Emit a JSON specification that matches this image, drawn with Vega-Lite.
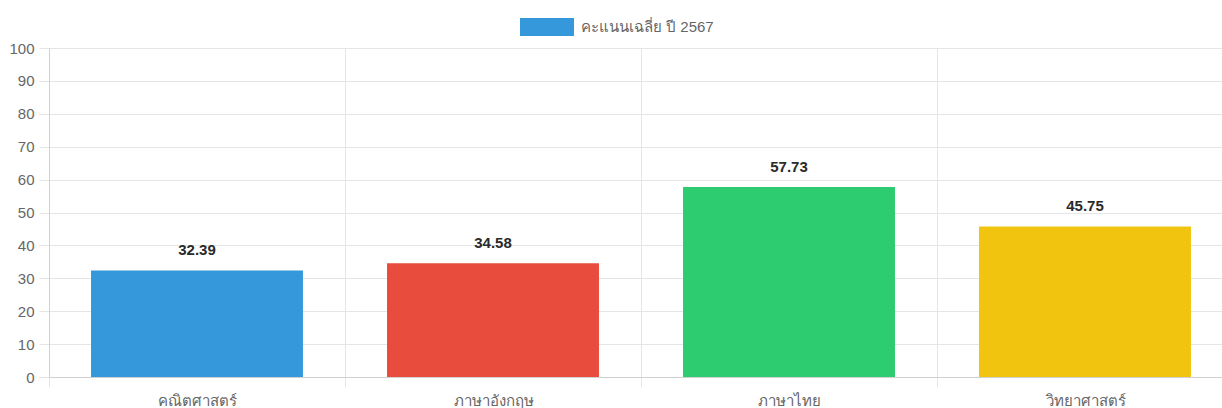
{
  "$schema": "https://vega.github.io/schema/vega-lite/v6.json",
  "autosize": "none",
  "width": 1184,
  "height": 329,
  "padding": {"left": 49, "top": 48, "right": 0, "bottom": 31},
  "background": "white",
  "data": {
    "values": [
      {"subject": "คณิตศาสตร์", "score": 32.39, "series": "คะแนนเฉลี่ย ปี 2567"},
      {"subject": "ภาษาอังกฤษ", "score": 34.58, "series": "คะแนนเฉลี่ย ปี 2567"},
      {"subject": "ภาษาไทย", "score": 57.73, "series": "คะแนนเฉลี่ย ปี 2567"},
      {"subject": "วิทยาศาสตร์", "score": 45.75, "series": "คะแนนเฉลี่ย ปี 2567"}
    ]
  },
  "encoding": {
    "x": {
      "field": "subject",
      "type": "nominal",
      "sort": null,
      "scale": {"paddingInner": 0, "paddingOuter": 0},
      "axis": {
        "title": null,
        "labelAngle": 0,
        "tickBand": "extent",
        "grid": true,
        "gridColor": "#e5e5e5",
        "domainColor": "#d0d0d0",
        "tickColor": "#e5e5e5",
        "tickSize": 10,
        "labelPadding": 6,
        "labelFontSize": 15,
        "labelColor": "#666666",
        "labelFont": "Liberation Sans"
      }
    },
    "y": {
      "field": "score",
      "type": "quantitative",
      "scale": {"domain": [0, 100], "nice": false},
      "axis": {
        "title": null,
        "values": [0, 10, 20, 30, 40, 50, 60, 70, 80, 90, 100],
        "grid": true,
        "gridColor": "#e5e5e5",
        "domainColor": "#d0d0d0",
        "tickColor": "#e5e5e5",
        "tickSize": 10,
        "labelPadding": 5,
        "labelFontSize": 15,
        "labelColor": "#666666",
        "labelFont": "Liberation Sans"
      }
    }
  },
  "layer": [
    {
      "mark": {"type": "bar"},
      "encoding": {
        "y": {"datum": 0, "type": "quantitative"},
        "y2": {"datum": 0},
        "color": {
          "field": "series",
          "type": "nominal",
          "scale": {"range": ["#3498db"]},
          "legend": {
            "title": null,
            "orient": "none",
            "legendX": 471,
            "legendY": -48,
            "direction": "horizontal",
            "symbolType": "M-1,-0.3333H1V0.3333H-1Z",
            "symbolSize": 2916,
            "symbolStrokeWidth": 0,
            "symbolOpacity": 1,
            "labelFontSize": 15,
            "labelColor": "#666666",
            "labelFont": "Liberation Sans",
            "labelOffset": 7
          }
        }
      }
    },
    {
      "mark": {"type": "bar", "width": {"band": 0.716}},
      "encoding": {
        "fill": {
          "field": "subject",
          "type": "nominal",
          "sort": null,
          "scale": {"range": ["#3498db", "#e74c3c", "#2ecc71", "#f1c40f"]},
          "legend": null
        }
      }
    },
    {
      "mark": {"type": "text", "baseline": "alphabetic", "dy": -15, "fontSize": 15, "fontWeight": "bold", "font": "Liberation Sans", "color": "#2a2a2a"},
      "encoding": {
        "text": {"field": "score", "type": "quantitative", "format": ".2f"}
      }
    }
  ]
}
